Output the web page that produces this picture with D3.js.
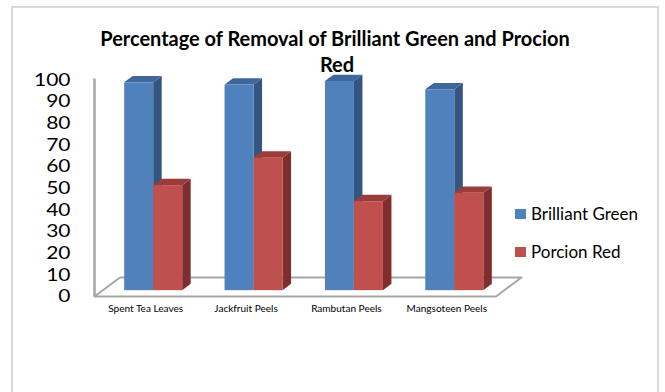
<!DOCTYPE html>
<html>
<head>
<meta charset="utf-8">
<script src="https://cdn.jsdelivr.net/npm/d3@7"></script>
<style>
  html, body { margin: 0; padding: 0; background: #fff; }
  svg { display: block; font-family: Lato, "Open Sans", sans-serif; }
</style>
</head>
<body>
<svg id="chart" width="665" height="392"></svg>
<script>
const categories = ["Spent Tea Leaves", "Jackfruit Peels", "Rambutan Peels", "Mangsoteen Peels"];
const seriesNames = ["Brilliant Green", "Porcion Red"];
const brilliantGreen = [96, 95, 96.6, 92.8];
const porcionRed = [48.5, 61.2, 41.1, 45];
const yTicks = [0, 10, 20, 30, 40, 50, 60, 70, 80, 90, 100];
const titleLines = ["Percentage of Removal of Brilliant Green and Procion", "Red"];

const seriesValues = [brilliantGreen, porcionRed];
const colors = [
  { front: "#4f81bd", top: "#3f679b", side: "#34557f" },
  { front: "#c0504d", top: "#9a3d3a", side: "#7e2f2d" }
];

const svg = d3.select("#chart");

// frame
svg.append("rect").attr("x", 12).attr("y", 7).attr("width", 646).attr("height", 400)
  .attr("fill", "#fff").attr("stroke", "#d9d9d9").attr("stroke-width", 2);

// scales (front plane)
const x = d3.scaleBand().domain(categories).range([94.5, 496]);
const y = d3.scaleLinear().domain([0, 100]).range([296.5, 80]);
const D = [25.5, -19]; // depth vector
const d0 = 1/3, d1 = 2/3;
const proj = (px, v, d) => [px + d * D[0], y(v) + d * D[1]];

// floor
const floorPts = [proj(94.5, 0, 0), proj(496, 0, 0), proj(496, 0, 1), proj(94.5, 0, 1)];
svg.append("polygon").attr("points", floorPts.map(p => p.join(",")).join(" "))
  .attr("fill", "#fff").attr("stroke", "#a6a6a6").attr("stroke-width", 2).attr("stroke-linejoin", "round");

// vertical axis line
svg.append("line").attr("x1", 94.5).attr("x2", 94.5).attr("y1", y(0)).attr("y2", y(100) - 1.5)
  .attr("stroke", "#a6a6a6").attr("stroke-width", 2.5);

// y tick labels (horizontally stretched like the reference)
const yl = svg.append("g").selectAll("text").data(yTicks).join("text")
  .attr("transform", d => `translate(70.5, ${y(d) - 0.5}) scale(1.2, 1)`)
  .attr("dy", "0.36em")
  .attr("text-anchor", "end").attr("font-size", 17.5).attr("fill", "#000")
  .text(d => d);

// bars
const barG = svg.append("g");
const pairHalf = 29;
categories.forEach((c, i) => {
  const cx = x(c) + x.bandwidth() / 2;
  const inner = d3.scaleBand().domain(seriesNames).range([cx - pairHalf, cx + pairHalf]);
  seriesNames.forEach((s, j) => {
    const v = seriesValues[j][i];
    const xl = inner(s), xr = inner(s) + inner.bandwidth();
    const col = colors[j];
    const g = barG.append("g");
    const side = [proj(xr, v, d0), proj(xr, v, d1), proj(xr, 0, d1), proj(xr, 0, d0)];
    g.append("polygon").attr("points", side.map(p => p.join(",")).join(" ")).attr("fill", col.side);
    const top = [proj(xl, v, d0), proj(xr, v, d0), proj(xr, v, d1), proj(xl, v, d1)];
    g.append("polygon").attr("points", top.map(p => p.join(",")).join(" ")).attr("fill", col.top);
    const fl = proj(xl, v, d0), fb = proj(xr, 0, d0);
    g.append("rect").attr("x", fl[0]).attr("y", fl[1]).attr("width", fb[0] - fl[0]).attr("height", fb[1] - fl[1])
      .attr("fill", col.front);
  });
});

// category labels
const cl = svg.append("g").selectAll("text").data(categories).join("text")
  .attr("x", d => x(d) + x.bandwidth() / 2 + 1).attr("y", 312)
  .attr("text-anchor", "middle").attr("font-size", 9).attr("fill", "#000")
  .text(d => d);
{
  const node = cl.filter(d => d === "Spent Tea Leaves").node();
  const w = node.getComputedTextLength();
  cl.attr("font-size", (9 * 75 / w).toFixed(2));
}

// title
const tt = svg.append("g").selectAll("text").data(titleLines).join("text")
  .attr("x", (d, i) => i === 0 ? 335 : 337).attr("y", (d, i) => 46 + i * 26)
  .attr("text-anchor", "middle").attr("font-size", 18).attr("font-weight", "bold").attr("fill", "#000")
  .text(d => d);
{
  const node = tt.filter((d, i) => i === 0).node();
  const w = node.getComputedTextLength();
  tt.attr("font-size", (18 * 470 / w).toFixed(2));
}

// legend
const lg = svg.append("g").selectAll("g").data(seriesNames).join("g")
  .attr("transform", (d, i) => `translate(515, ${209 + i * 38})`);
lg.append("rect").attr("width", 11).attr("height", 10).attr("fill", (d, i) => colors[i].front);
const lt = lg.append("text").attr("x", 16).attr("y", 10.5).attr("font-size", 16).attr("fill", "#000").text(d => d);
{
  const node = lt.filter(d => d === "Brilliant Green").node();
  const w = node.getComputedTextLength();
  lt.attr("font-size", (16 * 107 / w).toFixed(2));
}
</script>
</body>
</html>
